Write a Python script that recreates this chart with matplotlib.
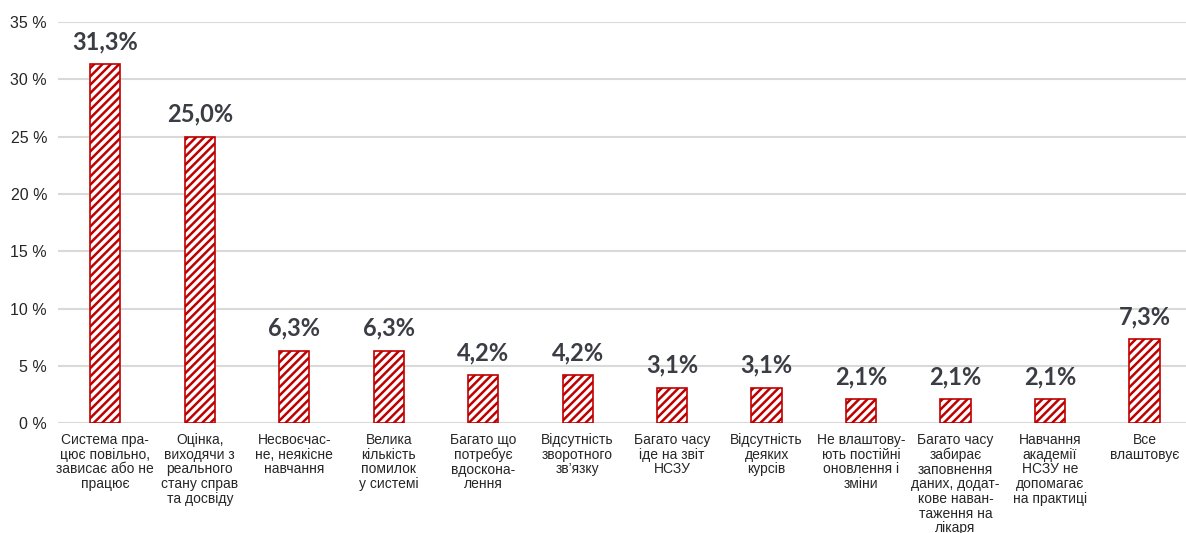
import matplotlib
matplotlib.use("Agg")
import matplotlib.pyplot as plt

categories = [
    "Система пра-\nцює повільно,\nзависає або не\nпрацює",
    "Оцінка,\nвиходячи з\nреального\nстану справ\nта досвіду",
    "Несвоєчас-\nне, неякісне\nнавчання",
    "Велика\nкількість\nпомилок\nу системі",
    "Багато що\nпотребує\nвдоскона-\nлення",
    "Відсутність\nзворотного\nзв’язку",
    "Багато часу\nіде на звіт\nНСЗУ",
    "Відсутність\nдеяких\nкурсів",
    "Не влаштову-\nють постійні\nоновлення і\nзміни",
    "Багато часу\nзабирає\nзаповнення\nданих, додат-\nкове наван-\nтаження на\nлікаря",
    "Навчання\nакадемії\nНСЗУ не\nдопомагає\nна практиці",
    "Все\nвлаштовує",
]
values = [31.3, 25.0, 6.3, 6.3, 4.2, 4.2, 3.1, 3.1, 2.1, 2.1, 2.1, 7.3]
value_labels = ["31,3%", "25,0%", "6,3%", "6,3%", "4,2%", "4,2%", "3,1%", "3,1%",
                "2,1%", "2,1%", "2,1%", "7,3%"]
yticks = [0, 5, 10, 15, 20, 25, 30, 35]
ytick_labels = ["0 %", "5 %", "10 %", "15 %", "20 %", "25 %", "30 %", "35 %"]

plt.rcParams['hatch.linewidth'] = 1.8
plt.rcParams['hatch.color'] = '#c00000'

fig = plt.figure(figsize=(11.86, 5.33), dpi=100)
ax = fig.add_axes([0.049, 0.206, 0.951, 0.753])

x = list(range(len(categories)))
ax.bar(x, values, width=0.32, color='white', edgecolor='#c00000',
       hatch='////', linewidth=1.2, zorder=3)

for xi, v, lab in zip(x, values, value_labels):
    ax.annotate(lab, (xi, v), xytext=(0, 8), textcoords='offset points',
                ha='center', va='bottom', fontsize=17, fontweight='bold',
                color='#3a3d44', family=['Lato', 'DejaVu Sans'])

ax.set_ylim(0, 35)
ax.set_xlim(-0.5, len(categories) - 0.56)
ax.set_yticks(yticks)
ax.set_yticklabels(ytick_labels, fontsize=11.5, color='#262626',
                   family=['Liberation Sans', 'DejaVu Sans'])
ax.set_xticks(x)
ax.set_xticklabels(categories, fontsize=10, color='#262626', linespacing=1.06,
                   family=['Liberation Sans', 'DejaVu Sans'], va='top')
ax.tick_params(axis='both', length=0)
ax.tick_params(axis='x', pad=7)
ax.tick_params(axis='y', pad=8)
ax.grid(axis='y', color='#d9d9d9', linewidth=1.5, zorder=0)
for s in ax.spines.values():
    s.set_visible(False)

fig.savefig('out.png', dpi=100)
